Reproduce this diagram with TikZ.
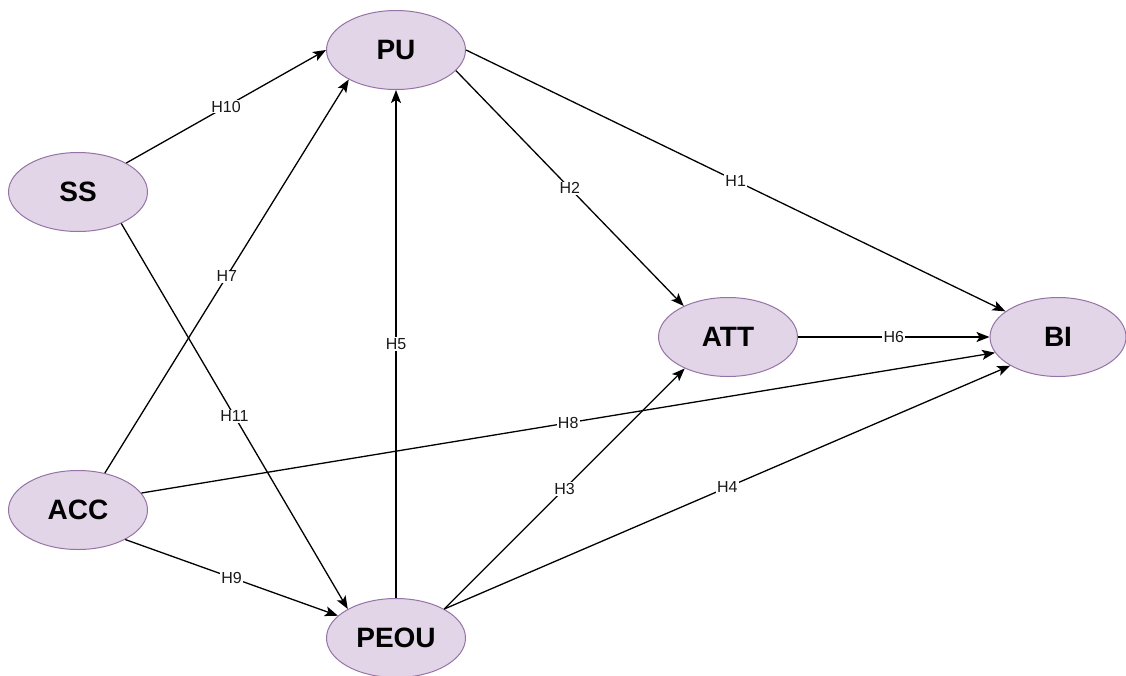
\documentclass[tikz,border=0pt]{standalone}
\usepackage{fontspec}
\setmainfont{Liberation Sans}
\usetikzlibrary{shapes.geometric,arrows.meta}
\definecolor{efill}{HTML}{E1D5E7}
\definecolor{edraw}{HTML}{9673A6}
\tikzset{
  construct/.style={ellipse, draw=edraw, fill=efill, line width=1pt, inner sep=0pt,
    minimum width=139pt, minimum height=79pt, font=\fontsize{28}{30}\selectfont\bfseries},
  link/.style={draw=black, line width=1.3pt, -{Stealth[length=13pt,width=10pt,inset=3pt]}},
  hlab/.style={fill=white, inner sep=1.2pt, text=black!90, font=\fontsize{16}{18}\selectfont, midway}
}
\begin{document}
\begin{tikzpicture}[x=1pt,y=-1pt]
\useasboundingbox (0,0) rectangle (1126,675);
\fill[white] (0,0) rectangle (1126,675);
\node[construct] (PU) at (396,50) {PU};
\node[construct] (SS) at (78,192) {SS};
\node[construct] (ACC) at (78,510) {ACC};
\node[construct] (PEOU) at (396,638) {PEOU};
\node[construct] (ATT) at (728,337) {ATT};
\node[construct, minimum width=136pt] (BI) at (1058,337) {BI};

\draw[link] (SS.31) -- node[hlab] {H10} (PU.180);
\draw[link] (SS.-36) -- node[hlab] {H11} (PEOU.149);
\draw[link] (ACC.54) -- node[hlab] {H7} (PU.-148);
\draw[link] (ACC.-32) -- node[hlab] {H9} (PEOU.159);
\draw[link] (ACC.15) -- node[hlab] {H8} (BI.-166);
\draw[link] (PEOU.north) -- node[hlab] {H5} (PU.south);
\draw[link] (PEOU.31) -- node[hlab] {H3} (ATT.-144);
\draw[link] (PEOU.31) -- node[hlab] {H4} (BI.-149);
\draw[link] (PU.-19) -- node[hlab] {H2} (ATT.145);
\draw[link] (PU.0) -- node[hlab] {H1} (BI.154);
\draw[link] (ATT.east) -- node[hlab] {H6} (BI.west);
\end{tikzpicture}
\end{document}
